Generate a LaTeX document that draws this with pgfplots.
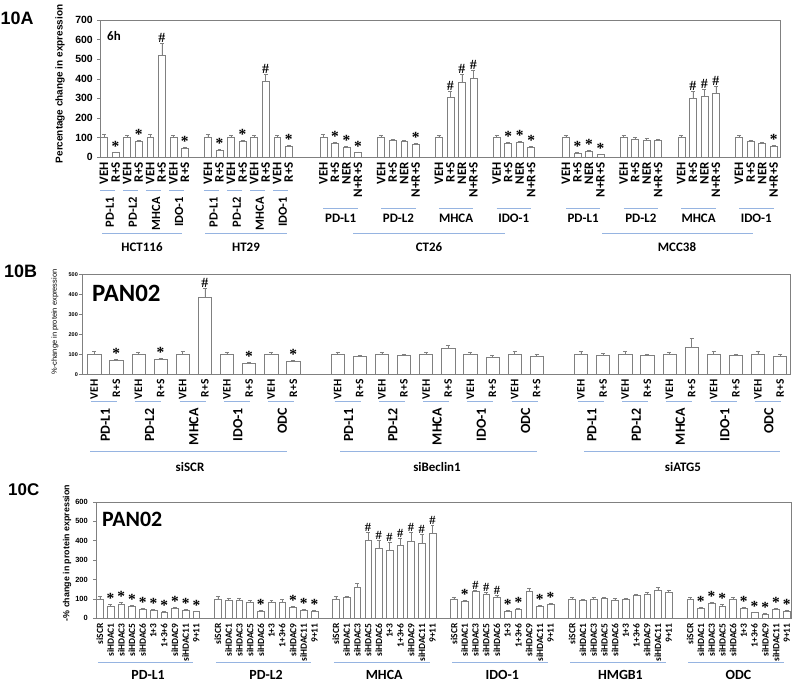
\documentclass[border=0pt]{standalone}
\usepackage{fontspec}
\setmainfont{Liberation Sans}
\newfontfamily\cb{Carlito}
\newfontfamily\tnr{Liberation Serif}
\usepackage{pgfplots}
\usepackage{pgfplotstable}
\pgfplotsset{compat=1.18}
\definecolor{bl}{RGB}{150,180,225}
\definecolor{fr}{RGB}{128,128,128}
\newcommand\fs[1]{\fontsize{#1}{#1}\selectfont}
\def\symA{a}\def\symH{h}
\newcommand\mysym{\edef\tmp{\pgfplotspointmeta}\ifx\tmp\symA\raisebox{-0.25em}{\fs{15.5}*}\else\ifx\tmp\symH \#\fi\fi}

\pgfplotstableread{
x y e lab s
0 100 15 VEH n
1 22 5 R+S a
2 100 12 VEH n
3 80 8 R+S a
4 100 15 VEH n
5 520 60 R+S h
6 100 12 VEH n
7 47 5 R+S a
9 100 15 VEH n
10 35 5 R+S a
11 100 12 VEH n
12 78 8 R+S a
13 100 12 VEH n
14 385 40 R+S h
15 100 12 VEH n
16 55 5 R+S a
19 100 15 VEH n
20 68 8 R+S a
21 51 5 NER a
22 24 3 N+R+S a
24 100 12 VEH n
25 85 6 R+S n
26 79 6 NER n
27 63 6 N+R+S a
29 100 12 VEH n
30 304 30 R+S h
31 384 40 NER h
32 400 45 N+R+S h
34 100 12 VEH n
35 68 8 R+S a
36 73 8 NER a
37 50 5 N+R+S a
40 100 12 VEH n
41 20 5 R+S a
42 30 5 NER a
43 13 3 N+R+S a
45 100 12 VEH n
46 92 8 R+S n
47 88 7 NER n
48 85 6 N+R+S n
50 100 12 VEH n
51 302 35 R+S h
52 310 35 NER h
53 324 40 N+R+S h
55 100 12 VEH n
56 82 6 R+S n
57 72 5 NER n
58 55 5 N+R+S a
}\tabA

\pgfplotstableread{
x y e lab s
0 100 15 VEH n
1 68 8 R+S a
2 100 12 VEH n
3 73 8 R+S a
4 100 15 VEH n
5 385 45 R+S h
6 100 12 VEH n
7 55 6 R+S a
8 100 12 VEH n
9 65 7 R+S a
11 100 12 VEH n
12 88 8 R+S n
13 100 12 VEH n
14 93 8 R+S n
15 100 12 VEH n
16 130 15 R+S n
17 100 12 VEH n
18 85 8 R+S n
19 100 15 VEH n
20 90 8 R+S n
22 100 15 VEH n
23 95 8 R+S n
24 100 15 VEH n
25 93 8 R+S n
26 100 12 VEH n
27 135 45 R+S n
28 100 15 VEH n
29 93 8 R+S n
30 100 15 VEH n
31 92 8 R+S n
}\tabB

\pgfplotstableread{
x y e lab s
0 100 15 siSCR n
1 63 7 siHDAC1 a
2 74 8 siHDAC3 a
3 62 5 siHDAC5 a
4 48 5 siHDAC6 a
5 43 4 1+3 a
6 33 4 1+3+6 a
7 51 4 siHDAC9 a
8 43 4 siHDAC11 a
9 34 4 9+11 a
11 100 15 siSCR n
12 93 12 siHDAC1 n
13 93 12 siHDAC3 n
14 84 10 siHDAC5 n
15 38 5 siHDAC6 a
16 81 12 1+3 n
17 81 15 1+3+6 n
18 57 5 siHDAC9 a
19 41 5 siHDAC11 a
20 38 5 9+11 a
22 100 12 siSCR n
23 106 10 siHDAC1 n
24 161 20 siHDAC3 n
25 403 40 siHDAC5 h
26 360 40 siHDAC6 h
27 350 40 1+3 h
28 374 40 1+3+6 h
29 396 45 siHDAC9 h
30 388 45 siHDAC11 h
31 439 40 9+11 h
33 100 10 siSCR n
34 86 6 siHDAC1 a
35 137 10 siHDAC3 h
36 122 10 siHDAC5 h
37 110 10 siHDAC6 h
38 36 5 1+3 a
39 46 5 1+3+6 a
40 141 15 siHDAC9 n
41 63 6 siHDAC11 a
42 70 7 9+11 a
44 100 8 siSCR n
45 91 8 siHDAC1 n
46 100 8 siHDAC3 n
47 101 8 siHDAC5 n
48 93 8 siHDAC6 n
49 96 8 1+3 n
50 118 8 1+3+6 n
51 124 10 siHDAC9 n
52 146 12 siHDAC11 n
53 136 10 9+11 n
55 100 10 siSCR n
56 51 8 siHDAC1 a
57 77 8 siHDAC3 a
58 63 7 siHDAC5 a
59 100 10 siHDAC6 n
60 51 7 1+3 a
61 29 4 1+3+6 a
62 22 3 siHDAC9 a
63 48 6 siHDAC11 a
64 38 5 9+11 a
}\tabC

\pgfplotsset{
  panel/.style={scale only axis, anchor=south west, clip=false, ymin=0,
    axis line style={fr}, tick align=outside, major tick length=3bp,
    xtick=data, xtick style={draw=none}, ytick pos=left, ytick style={fr},
    xticklabel style={rotate=90, anchor=east, inner sep=2bp},
    yticklabel style={inner sep=1bp},
    /pgf/number format/assume math mode=true},
  bars/.style={ybar, draw=fr, fill=white, line width=0.5bp,
    error bars/y dir=plus, error bars/y explicit,
    error bars/error bar style={fr, line width=0.5bp}},
  ann/.style={draw=none, mark=none, nodes near coords={\mysym},
    point meta=explicit symbolic,
    every node near coord/.append style={anchor=south, inner sep=0.5bp}}
}

\begin{document}
\begin{tikzpicture}
\useasboundingbox (0,0) rectangle (800bp,692bp);

% ---------- 10A ----------
\begin{axis}[panel, at={(100bp,535bp)}, width=680bp, height=137bp,
  xmin=-0.35, xmax=58.55, ymax=700, ytick={0,100,...,700},
  xticklabels from table={\tabA}{lab},
  xticklabel style={font=\cb\bfseries\fs{13}},
  yticklabel style={font=\bfseries\fs{10.5}, xshift=-3bp}]
\addplot[bars, bar width=0.6] table[x=x, y=y, y error=e] {\tabA};
\addplot[ann, every node near coord/.append style={font=\tnr\bfseries\fs{14}}]
  table[x=x, y expr=\thisrow{y}+\thisrow{e}, meta=s] {\tabA};
\end{axis}

% ---------- 10B ----------
\begin{axis}[panel, at={(82bp,317.7bp)}, width=708bp, height=100bp,
  xmin=-0.55, xmax=31.45, ymax=500, ytick={0,100,...,500},
  xticklabels from table={\tabB}{lab},
  xticklabel style={font=\cb\bfseries\fs{11.5}},
  yticklabel style={font=\bfseries\fs{5.5}}]
\addplot[bars, bar width=0.6] table[x=x, y=y, y error=e] {\tabB};
\addplot[ann, every node near coord/.append style={font=\tnr\bfseries\fs{14}}]
  table[x=x, y expr=\thisrow{y}+\thisrow{e}, meta=s] {\tabB};
\end{axis}

% ---------- 10C ----------
\begin{axis}[panel, at={(96bp,73.7bp)}, width=695bp, height=116.6bp,
  xmin=-0.35, xmax=64.4, ymax=600, ytick={0,100,...,600},
  xticklabels from table={\tabC}{lab},
  xticklabel style={font=\cb\bfseries\fs{9.5}},
  yticklabel style={font=\bfseries\fs{7.5}, xshift=-4bp}]
\addplot[bars, bar width=0.62] table[x=x, y=y, y error=e] {\tabC};
\addplot[ann, every node near coord/.append style={font=\tnr\bfseries\fs{12.5}}]
  table[x=x, y expr=\thisrow{y}+\thisrow{e}, meta=s] {\tabC};
\end{axis}

% ---------- decorations in image pixel coordinates ----------
\begin{scope}[shift={(0bp,692bp)}, x=1bp, y=-1bp]
  % panel letters
  \node[anchor=north west, inner sep=0, font=\bfseries\fs{18}] at (0.5,12) {10A};
  \node[anchor=north west, inner sep=0, font=\bfseries\fs{18}] at (4,265) {10B};
  \node[anchor=north west, inner sep=0, font=\bfseries\fs{17}] at (8,483) {10C};
  % y labels
  \node[rotate=90, font=\bfseries\fs{10}] at (60,84) {Percentage change in expression};
  \node[rotate=90, font=\fs{7.5}] at (55,322) {\%-change in protein expression};
  \node[rotate=90, font=\bfseries\fs{8.9}] at (67,553) {-\% change in protein expression};
  % inner titles
  \node[anchor=north west, inner sep=0, font=\cb\bfseries\fs{13}] at (107,31) {6h};
  \node[anchor=north west, inner sep=0, font=\cb\bfseries\fs{25}] at (92,285) {PAN02};
  \node[anchor=north west, inner sep=0, font=\cb\bfseries\fs{22}] at (102,512) {PAN02};

  % ---- 10A groups ----
  \foreach \a/\b in {104/115.5, 127.1/138.6, 150.2/161.7, 173.3/184.8,
                     207.9/219.5, 231.0/242.5, 254.1/265.6, 277.2/288.7}
    \draw[bl, line width=1bp] (\a-4,191) -- (\b-1,191);
  \foreach \c/\t in {109.8/PD-L1, 132.8/PD-L2, 156.0/MHCA, 179.0/IDO-1,
                     213.7/PD-L1, 236.8/PD-L2, 259.9/MHCA, 282.9/IDO-1}
    \node[rotate=90, anchor=east, inner sep=0, font=\cb\bfseries\fs{12.5}] at (\c,197) {\t};
  \foreach \a/\b in {323.4/358.0, 381.1/415.7, 438.8/473.4, 496.5/531.2,
                     565.8/600.4, 623.5/658.2, 681.3/715.9, 739.0/773.6}
    \draw[bl, line width=1bp] (\a,209) -- (\b,209);
  \foreach \c/\t in {340.7/PD-L1, 398.4/PD-L2, 456.1/MHCA, 513.8/IDO-1,
                     583.1/PD-L1, 640.8/PD-L2, 698.6/MHCA, 756.3/IDO-1}
    \node[font=\cb\bfseries\fs{13}] at (\c,218) {\t};
  \foreach \a/\b/\c/\t in {102/182/142/HCT116, 205/287/246/HT29,
                           353/505/429/CT26, 602/753/677/MCC38} {
    \draw[bl, line width=1bp] (\a,234) -- (\b,234);
    \node[font=\cb\bfseries\fs{13}] at (\c,247) {\t};
  }

  % ---- 10B groups ----
  \foreach \a/\t in {94.2/PD-L1, 138.4/PD-L2, 182.7/MHCA, 226.9/IDO-1, 271.2/ODC,
                     337.5/PD-L1, 381.8/PD-L2, 426.0/MHCA, 470.3/IDO-1, 514.5/ODC,
                     580.9/PD-L1, 625.2/PD-L2, 669.4/MHCA, 713.7/IDO-1, 757.9/ODC} {
    \draw[bl, line width=1bp] (\a-3,402) -- (\a+23,402);
    \node[rotate=90, anchor=east, inner sep=0, font=\cb\bfseries\fs{14}] at (\a+11.06,408) {\t};
  }
  \foreach \a/\b/\c/\t in {90/287/190/siSCR, 340/537/437/siBeclin1, 584/780/683/siATG5} {
    \draw[bl, line width=1bp] (\a,452) -- (\b,452);
    \node[font=\cb\bfseries\fs{13}] at (\c,467) {\t};
  }

  % ---- 10C groups ----
  \foreach \a/\t in {99.76/PD-L1, 217.8/PD-L2, 335.9/MHCA, 454.0/IDO-1, 572.1/HMGB1, 690.1/ODC} {
    \draw[bl, line width=1bp] (\a-2,662.7) -- (\a+93.6,662.7);
    \node[font=\cb\bfseries\fs{14}] at (\a+48.3,675) {\t};
  }
\end{scope}
\end{tikzpicture}
\end{document}
